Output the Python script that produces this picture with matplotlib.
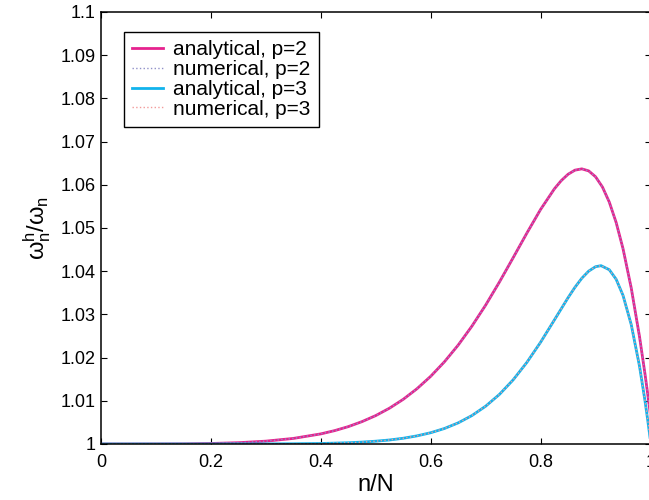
import matplotlib
matplotlib.use('Agg')
import matplotlib.pyplot as plt

# values
n_over_N_p2 = [0, 0.05, 0.1, 0.15, 0.2, 0.25, 0.3, 0.35, 0.4, 0.425, 0.45, 0.475,
               0.5, 0.525, 0.55, 0.575, 0.6, 0.625, 0.65, 0.675, 0.7, 0.725, 0.75,
               0.775, 0.8, 0.825, 0.8375, 0.85, 0.8625, 0.875, 0.8875, 0.9, 0.9125,
               0.925, 0.9375, 0.95, 0.965, 0.98, 0.99, 0.995, 1.0]
ratio_p2 = [1.0, 1.0, 1.00001, 1.00003, 1.00012, 1.00030, 1.00066, 1.00129, 1.00234,
            1.00309, 1.00402, 1.00518, 1.00658, 1.00829, 1.01034, 1.01279, 1.01567,
            1.01903, 1.02289, 1.02728, 1.03215, 1.03748, 1.04311, 1.04882, 1.05430,
            1.05905, 1.06096, 1.06244, 1.06339, 1.06369, 1.06322, 1.06186, 1.05950,
            1.05600, 1.05127, 1.04521, 1.03608, 1.02486, 1.01619, 1.01150, 1.00658]

n_over_N_p3 = [0, 0.1, 0.2, 0.3, 0.35, 0.4, 0.425, 0.45, 0.475, 0.5, 0.525, 0.55,
               0.575, 0.6, 0.625, 0.65, 0.675, 0.7, 0.725, 0.75, 0.775, 0.8, 0.825,
               0.85, 0.8625, 0.875, 0.8875, 0.9, 0.91, 0.925, 0.9375, 0.95, 0.965,
               0.98, 0.99, 0.995, 1.0]
ratio_p3 = [1.0, 1.0, 1.0, 1.00002, 1.00005, 1.00012, 1.00020, 1.00029, 1.00044,
            1.00065, 1.00093, 1.00133, 1.00188, 1.00261, 1.00359, 1.00489, 1.00658,
            1.00875, 1.01147, 1.01484, 1.01889, 1.02356, 1.02870, 1.03387, 1.03627,
            1.03837, 1.04002, 1.04104, 1.04128, 1.04034, 1.03813, 1.03440, 1.02761,
            1.01802, 1.00999, 1.00549, 1.00065]

# numerical results lie on top of the analytical curves
num_ratio_p2 = list(ratio_p2)
num_ratio_p3 = list(ratio_p3)

x_ticks = [0, 0.2, 0.4, 0.6, 0.8, 1.0]
x_tick_labels = ['0', '0.2', '0.4', '0.6', '0.8', '1']
y_ticks = [1.0, 1.01, 1.02, 1.03, 1.04, 1.05, 1.06, 1.07, 1.08, 1.09, 1.1]
y_tick_labels = ['1', '1.01', '1.02', '1.03', '1.04', '1.05', '1.06', '1.07',
                 '1.08', '1.09', '1.1']

plt.rcParams['font.family'] = ['Liberation Sans', 'DejaVu Sans']
plt.rcParams['mathtext.fontset'] = 'custom'
plt.rcParams['mathtext.rm'] = 'Liberation Sans'
plt.rcParams['mathtext.it'] = 'Liberation Sans'


def main():
    fig = plt.figure(figsize=(6.49, 5.0), dpi=100)
    # axes box: x from 101px to ~650px, y from 12px to 444px
    ax = fig.add_axes([101 / 649, 56 / 500, 549.5 / 649, 432 / 500])

    ax.plot(n_over_N_p2, ratio_p2, '-', color='#E6228E', lw=2.0,
            label='analytical, p=2')
    ax.plot(n_over_N_p2, num_ratio_p2, ':', color='#9090C8', lw=1.0,
            label='numerical, p=2')
    ax.plot(n_over_N_p3, ratio_p3, '-', color='#12B3EC', lw=2.0,
            label='analytical, p=3')
    ax.plot(n_over_N_p3, num_ratio_p3, ':', color='#F29A9A', lw=1.0,
            label='numerical, p=3')

    ax.set_xlim(0, 1)
    ax.set_ylim(1.0, 1.1)
    ax.set_xticks(x_ticks)
    ax.set_xticklabels(x_tick_labels)
    ax.set_yticks(y_ticks)
    ax.set_yticklabels(y_tick_labels)
    ax.tick_params(direction='in', length=4, width=0.8, top=True, right=True,
                   labelsize=13, color='black')
    ax.tick_params(axis='x', pad=7)
    ax.tick_params(axis='y', pad=4)
    for sp in ax.spines.values():
        sp.set_linewidth(1.1)

    ax.set_xlabel('n/N', fontsize=17)
    ax.set_ylabel(r'$\mathregular{\omega_n^h/\omega_n}$', fontsize=17)
    ax.xaxis.set_label_coords(0.5, -0.07)
    ax.yaxis.set_label_coords(-0.088, 0.5)

    leg = ax.legend(loc='upper left', bbox_to_anchor=(0.042, 0.954),
                    borderaxespad=0, fontsize=15, handlelength=1.45,
                    handletextpad=0.5, labelspacing=0.04, borderpad=0.4,
                    fancybox=False, framealpha=1)
    leg.get_frame().set_edgecolor('black')
    leg.get_frame().set_linewidth(1.0)

    fig.savefig('out.png', dpi=100)
    plt.close(fig)


if __name__ == "__main__":
    main()
